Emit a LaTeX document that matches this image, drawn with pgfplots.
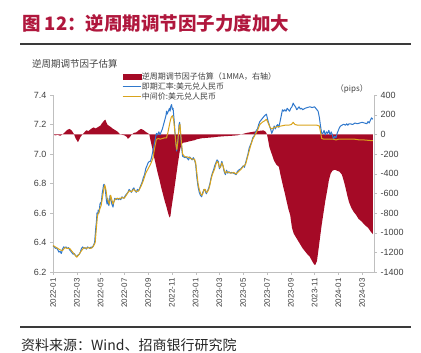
\documentclass[border=0pt]{standalone}
\usepackage{pgfplots}
\pgfplotsset{compat=1.18}
\usepackage{fontspec}
\setmainfont{Liberation Sans}
\newfontfamily\cjk{Noto Sans CJK SC}
\definecolor{areared}{HTML}{A50A26}
\definecolor{spotblue}{HTML}{2F78CC}
\definecolor{fixgold}{HTML}{D9A31C}
\definecolor{titlered}{HTML}{B0173D}
\definecolor{axisgray}{HTML}{BFBFBF}
\definecolor{labelgray}{HTML}{404040}
\definecolor{rulegray}{HTML}{3A3A3A}
\pgfplotsset{
  lineleg/.style={legend image code/.code={\draw[##1] (0pt,0pt) -- (18pt,0pt);}},
  arealeg/.style={legend image code/.code={\fill[areared] (0pt,-2.6pt) rectangle (18pt,2.6pt);}},
}
\begin{document}
\begin{tikzpicture}[x=1pt,y=1pt]
\path[use as bounding box] (0,0) rectangle (421,353);
\node[anchor=west, text=titlered, font=\cjk\bfseries\fontsize{18.5}{19}\selectfont, inner sep=0pt] at (22,329.5) {图 12：逆周期调节因子力度加大};
\draw[line width=1.3pt, color=rulegray] (20,309) -- (411,309);
\node[anchor=west, font=\cjk\fontsize{9.5}{10}\selectfont, text=labelgray, inner sep=0pt] at (32,289.5) {逆周期调节因子估算};
\node[anchor=east, font=\cjk\fontsize{8}{8}\selectfont, text=labelgray, inner sep=0pt] at (368,264) {（pips）};
\draw[line width=1.3pt, color=rulegray] (20,26) -- (411,26);
\node[anchor=west, font=\cjk\fontsize{14}{14}\selectfont, text=black!85, inner sep=0pt] at (21,8) {资料来源：Wind、招商银行研究院};

\begin{axis}[at={(53pt,81pt)}, anchor=south west, scale only axis,
  width=321pt, height=177pt, xmin=0, xmax=27, ymin=-1400, ymax=400,
  axis y line*=right, axis x line=none,
  axis line style={draw=axisgray, -},
  ytick={-1400,-1200,-1000,-800,-600,-400,-200,0,200,400},
  yticklabels={-1400,-1200,-1000,-800,-600,-400,-200,0,200,400},
  yticklabel style={font=\fontsize{9}{9}\selectfont, text=labelgray},
  tick style={draw=axisgray}, major tick length=3pt, tick align=outside,
  ]
\addplot[fill=areared, draw=none] coordinates {
(0,0)(0.00,-5)(0.2,-10)(0.4,-5)(0.6,-15)(0.8,0)(1.0,20)(1.2,45)(1.4,55)(1.6,35)(1.75,5)(1.9,-40)(2.0,-60)(2.1,-80)(2.2,-55)(2.3,-30)(2.45,-5)(2.6,15)(2.8,40)(3.0,35)(3.2,55)(3.4,70)(3.6,60)(3.8,75)(4.0,90)(4.1,110)(4.2,125)(4.3,140)(4.4,150)(4.5,120)(4.6,95)(4.8,80)(5.0,60)(5.2,45)(5.4,30)(5.6,5)(5.8,-5)(6.0,-10)(6.2,-25)(6.3,-45)(6.45,-30)(6.6,-5)(6.8,15)(7.0,20)(7.2,40)(7.4,55)(7.6,45)(7.8,25)(8.0,10)(8.1,0)(8.2,-60)(8.35,-140)(8.5,-230)(8.65,-310)(8.8,-390)(8.95,-460)(9.1,-540)(9.25,-610)(9.4,-680)(9.55,-740)(9.7,-810)(9.8,-845)(9.88,-830)(9.95,-760)(10.05,-680)(10.2,-560)(10.35,-430)(10.5,-300)(10.65,-180)(10.8,-100)(10.95,-85)(11.2,-80)(11.5,-70)(11.9,-60)(12.1,-50)(12.5,-40)(13.0,-35)(13.5,-30)(13.8,-25)(14.3,-20)(15.0,-15)(15.5,-10)(16.0,5)(16.3,15)(16.8,25)(17.3,35)(17.7,40)(17.9,25)(18.0,0)(18.1,-60)(18.2,-130)(18.4,-200)(18.6,-270)(18.8,-310)(19.0,-330)(19.15,-420)(19.3,-500)(19.5,-600)(19.65,-680)(19.8,-760)(19.95,-820)(20.1,-950)(20.25,-1010)(20.4,-1040)(20.6,-1080)(20.8,-1120)(21.0,-1160)(21.2,-1190)(21.4,-1220)(21.6,-1245)(21.8,-1290)(21.95,-1320)(22.05,-1330)(22.2,-1290)(22.3,-1200)(22.45,-1060)(22.6,-920)(22.75,-800)(22.9,-680)(23.05,-580)(23.2,-470)(23.35,-400)(23.5,-370)(23.7,-360)(23.9,-370)(24.1,-380)(24.3,-410)(24.45,-470)(24.6,-540)(24.75,-620)(24.9,-690)(25.1,-750)(25.3,-790)(25.5,-820)(25.7,-860)(25.9,-880)(26.1,-905)(26.3,-930)(26.5,-950)(26.7,-985)(26.9,-1015)(26.9,0)
} -- cycle;
\end{axis}

\begin{axis}[at={(53pt,81pt)}, anchor=south west, scale only axis,
  width=321pt, height=177pt, xmin=0, xmax=27, ymin=6.2, ymax=7.4,
  axis y line*=left, axis x line*=bottom,
  axis line style={draw=axisgray, -},
  xtick={0,2,4,6,8,10,12,14,16,18,20,22,24,26},
  xticklabels={2022-01,2022-03,2022-05,2022-07,2022-09,2022-11,2023-01,2023-03,2023-05,2023-07,2023-09,2023-11,2024-01,2024-03},
  xticklabel style={rotate=90, anchor=east, font=\fontsize{8}{8}\selectfont, text=labelgray},
  ytick={6.2,6.4,6.6,6.8,7.0,7.2,7.4},
  yticklabels={6.2,6.4,6.6,6.8,7.0,7.2,7.4},
  yticklabel style={font=\fontsize{9}{9}\selectfont, text=labelgray},
  tick style={draw=axisgray}, major tick length=3pt, tick align=outside,
  legend style={at={(0.215,1.13)}, anchor=north west, draw=none, fill=none,
    font=\cjk\fontsize{8}{8}\selectfont, text=labelgray, inner sep=0pt, row sep=0.5pt,
    nodes={inner sep=0.6pt}},
  legend cell align=left,
  ]
\addlegendimage{arealeg}
\addlegendentry{逆周期调节因子估算（1MMA，右轴）}
\addplot[spotblue, line width=1pt, line join=round, lineleg] coordinates {
(0.00,6.375)(0.10,6.372)(0.20,6.360)(0.30,6.365)(0.40,6.350)(0.50,6.335)(0.60,6.340)(0.70,6.325)(0.80,6.355)(0.90,6.370)(1.00,6.365)(1.10,6.370)(1.20,6.360)(1.30,6.365)(1.40,6.350)(1.50,6.340)(1.60,6.330)(1.70,6.320)(1.80,6.325)(1.90,6.310)(2.00,6.305)(2.10,6.315)(2.20,6.320)(2.30,6.335)(2.40,6.360)(2.50,6.370)(2.60,6.360)(2.70,6.365)(2.80,6.355)(2.90,6.370)(3.00,6.365)(3.10,6.360)(3.20,6.370)(3.30,6.365)(3.40,6.380)(3.50,6.400)(3.55,6.450)(3.60,6.500)(3.65,6.540)(3.70,6.600)(3.75,6.580)(3.80,6.620)(3.85,6.600)(3.90,6.620)(3.95,6.660)(4.00,6.670)(4.05,6.660)(4.10,6.700)(4.15,6.740)(4.20,6.760)(4.25,6.790)(4.30,6.795)(4.35,6.780)(4.40,6.760)(4.45,6.720)(4.50,6.680)(4.55,6.660)(4.60,6.700)(4.65,6.670)(4.70,6.650)(4.75,6.680)(4.80,6.720)(4.85,6.700)(4.90,6.680)(4.95,6.660)(5.00,6.650)(5.05,6.640)(5.10,6.670)(5.20,6.700)(5.30,6.690)(5.40,6.700)(5.50,6.690)(5.60,6.700)(5.70,6.690)(5.80,6.710)(5.90,6.700)(6.00,6.705)(6.10,6.720)(6.20,6.730)(6.30,6.740)(6.40,6.760)(6.50,6.750)(6.60,6.740)(6.70,6.760)(6.80,6.770)(6.90,6.750)(7.00,6.740)(7.10,6.760)(7.20,6.750)(7.30,6.770)(7.40,6.790)(7.50,6.810)(7.60,6.840)(7.70,6.860)(7.80,6.900)(7.90,6.920)(8.00,6.940)(8.10,6.950)(8.20,6.950)(8.30,6.980)(8.40,7.020)(8.50,7.060)(8.60,7.100)(8.70,7.140)(8.80,7.130)(8.90,7.150)(9.00,7.130)(9.10,7.150)(9.20,7.170)(9.30,7.200)(9.40,7.230)(9.50,7.260)(9.55,7.290)(9.60,7.270)(9.70,7.290)(9.80,7.310)(9.85,7.290)(9.90,7.320)(9.97,7.335)(10.05,7.300)(10.10,7.310)(10.20,7.220)(10.30,7.100)(10.40,7.020)(10.50,7.080)(10.60,7.200)(10.65,7.215)(10.70,7.170)(10.80,7.060)(10.90,6.985)(11.00,6.980)(11.10,6.975)(11.20,6.980)(11.30,6.970)(11.40,6.960)(11.50,6.980)(11.60,6.970)(11.70,6.960)(11.80,6.975)(11.90,6.960)(12.00,6.930)(12.10,6.840)(12.20,6.780)(12.30,6.740)(12.40,6.720)(12.50,6.710)(12.60,6.740)(12.70,6.760)(12.80,6.750)(12.90,6.730)(13.00,6.750)(13.10,6.770)(13.20,6.800)(13.30,6.840)(13.40,6.870)(13.50,6.890)(13.60,6.920)(13.70,6.940)(13.80,6.960)(13.90,6.950)(14.00,6.900)(14.10,6.920)(14.20,6.950)(14.30,6.920)(14.40,6.880)(14.50,6.860)(14.60,6.890)(14.70,6.870)(14.80,6.880)(14.90,6.870)(15.00,6.875)(15.20,6.870)(15.40,6.860)(15.50,6.880)(15.60,6.890)(15.80,6.900)(16.00,6.920)(16.10,6.910)(16.20,6.940)(16.30,6.970)(16.40,7.000)(16.50,7.040)(16.60,7.060)(16.70,7.080)(16.80,7.110)(16.90,7.120)(17.00,7.140)(17.10,7.160)(17.20,7.170)(17.30,7.200)(17.40,7.220)(17.50,7.230)(17.60,7.240)(17.70,7.250)(17.80,7.260)(17.95,7.270)(18.10,7.220)(18.30,7.170)(18.40,7.140)(18.50,7.160)(18.60,7.190)(18.70,7.170)(18.80,7.190)(18.90,7.200)(19.00,7.180)(19.10,7.220)(19.20,7.260)(19.30,7.300)(19.40,7.290)(19.50,7.300)(19.60,7.290)(19.70,7.310)(19.80,7.300)(19.90,7.290)(20.00,7.310)(20.10,7.320)(20.20,7.345)(20.30,7.330)(20.40,7.320)(20.50,7.300)(20.60,7.310)(20.70,7.320)(20.80,7.305)(20.90,7.310)(21.00,7.300)(21.20,7.310)(21.40,7.315)(21.60,7.320)(21.80,7.315)(22.00,7.320)(22.10,7.310)(22.20,7.300)(22.30,7.290)(22.40,7.250)(22.50,7.190)(22.60,7.140)(22.70,7.140)(22.80,7.160)(22.90,7.130)(23.00,7.150)(23.10,7.140)(23.20,7.160)(23.30,7.130)(23.40,7.150)(23.50,7.130)(23.60,7.100)(23.70,7.120)(23.80,7.110)(23.90,7.140)(24.00,7.160)(24.10,7.180)(24.20,7.190)(24.30,7.195)(24.40,7.200)(24.50,7.200)(24.60,7.195)(24.70,7.205)(24.80,7.195)(24.90,7.205)(25.00,7.205)(25.20,7.200)(25.40,7.210)(25.60,7.205)(25.80,7.210)(26.00,7.215)(26.20,7.210)(26.40,7.205)(26.50,7.220)(26.60,7.210)(26.70,7.230)(26.80,7.245)(26.90,7.235)
};
\addlegendentry{即期汇率:美元兑人民币}
\addplot[fixgold, line width=1pt, line join=round, lineleg] coordinates {
(0.00,6.380)(0.20,6.370)(0.40,6.360)(0.60,6.350)(0.80,6.345)(1.00,6.365)(1.20,6.360)(1.40,6.360)(1.60,6.340)(1.80,6.320)(2.00,6.300)(2.10,6.310)(2.20,6.320)(2.40,6.345)(2.60,6.365)(2.80,6.360)(3.00,6.365)(3.20,6.360)(3.40,6.375)(3.55,6.400)(3.65,6.500)(3.75,6.590)(3.85,6.600)(3.95,6.630)(4.05,6.650)(4.15,6.700)(4.25,6.750)(4.35,6.790)(4.45,6.760)(4.55,6.700)(4.65,6.680)(4.75,6.660)(4.85,6.720)(4.95,6.690)(5.05,6.660)(5.20,6.690)(5.40,6.700)(5.60,6.695)(5.80,6.705)(6.00,6.700)(6.20,6.725)(6.40,6.750)(6.60,6.745)(6.80,6.760)(7.00,6.745)(7.20,6.750)(7.40,6.780)(7.60,6.820)(7.80,6.870)(8.00,6.900)(8.20,6.930)(8.40,6.970)(8.55,7.040)(8.70,7.100)(8.90,7.105)(9.00,7.100)(9.20,7.105)(9.40,7.110)(9.55,7.110)(9.65,7.140)(9.75,7.180)(9.85,7.220)(9.95,7.250)(10.05,7.260)(10.15,7.230)(10.25,7.150)(10.35,7.060)(10.42,7.030)(10.50,7.090)(10.60,7.180)(10.68,7.200)(10.78,7.100)(10.90,7.000)(11.05,6.985)(11.15,6.980)(11.30,6.980)(11.50,6.975)(11.70,6.965)(11.90,6.965)(12.00,6.940)(12.10,6.870)(12.20,6.800)(12.30,6.760)(12.40,6.735)(12.50,6.720)(12.60,6.730)(12.70,6.760)(12.80,6.760)(12.90,6.740)(13.00,6.745)(13.10,6.760)(13.20,6.790)(13.30,6.830)(13.40,6.860)(13.50,6.880)(13.60,6.900)(13.70,6.930)(13.80,6.950)(13.90,6.940)(14.00,6.910)(14.10,6.910)(14.20,6.940)(14.30,6.920)(14.40,6.890)(14.50,6.870)(14.60,6.880)(14.80,6.875)(15.00,6.870)(15.20,6.875)(15.40,6.865)(15.60,6.880)(15.80,6.895)(16.00,6.915)(16.20,6.930)(16.40,6.990)(16.60,7.050)(16.80,7.100)(17.00,7.130)(17.20,7.160)(17.40,7.200)(17.60,7.215)(17.80,7.225)(17.95,7.235)(18.10,7.210)(18.25,7.180)(18.40,7.170)(18.60,7.180)(18.90,7.185)(19.20,7.190)(19.50,7.195)(19.80,7.195)(20.05,7.200)(20.20,7.215)(20.35,7.200)(20.60,7.195)(21.00,7.195)(21.40,7.195)(21.80,7.195)(22.20,7.195)(22.40,7.190)(22.50,7.150)(22.60,7.105)(22.80,7.100)(23.00,7.100)(23.30,7.100)(23.60,7.100)(23.80,7.095)(24.00,7.100)(24.30,7.100)(24.60,7.100)(25.00,7.100)(25.40,7.100)(25.80,7.095)(26.20,7.095)(26.60,7.092)(26.90,7.090)
};
\addlegendentry{中间价:美元兑人民币}
\end{axis}
\end{tikzpicture}
\end{document}
